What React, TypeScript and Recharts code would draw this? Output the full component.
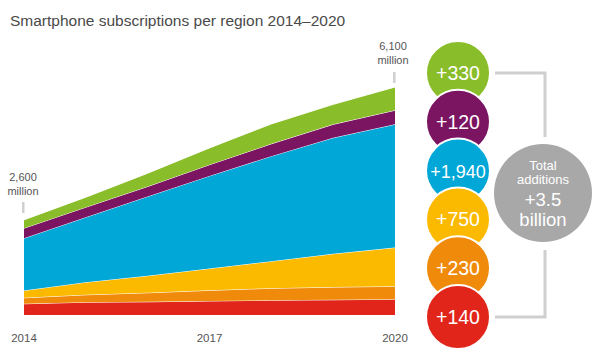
import React from "react";
import { AreaChart, Area, XAxis, YAxis } from "recharts";

const years = [2014, 2015, 2016, 2017, 2018, 2019, 2020];
const red = [300, 343, 353, 375, 396, 407, 423];
const orange = [161, 198, 242, 285, 320, 340, 345];
const yellow = [195, 337, 455, 585, 724, 892, 1037];
const blue = [1401, 1741, 2124, 2480, 2814, 3107, 3302];
const purple = [268, 268, 267, 300, 330, 359, 375];
const green = [225, 268, 356, 450, 533, 535, 623];

const tickYears = [2014, 2017, 2020];
const startLabel = ["2,600", "million"];
const endLabel = ["6,100", "million"];

const additionLabels = ["+330", "+120", "+1,940", "+750", "+230", "+140"];
const totalLabel = ["Total", "additions", "+3.5", "billion"];

const C = {
  green: "#8abd2a",
  purple: "#7b1461",
  blue: "#00a7d7",
  yellow: "#fbb900",
  orange: "#f08a0b",
  red: "#e1251b",
};
const circleColors = [C.green, C.purple, C.blue, C.yellow, C.orange, C.red];

const data = years.map((y, i) => ({
  year: y,
  red: red[i],
  orange: orange[i],
  yellow: yellow[i],
  blue: blue[i],
  purple: purple[i],
  green: green[i],
}));

const series: [string, string][] = [
  ["red", C.red],
  ["orange", C.orange],
  ["yellow", C.yellow],
  ["blue", C.blue],
  ["purple", C.purple],
  ["green", C.green],
];

const FONT = "'Liberation Sans', Arial, Helvetica, sans-serif";

export default function App() {
  return (
    <div style={{ position: "absolute", left: 0, top: 0, width: 600, height: 355, background: "#fff", fontFamily: FONT }}>
      <AreaChart
        width={600}
        height={355}
        data={data}
        margin={{ top: 87, right: 205, bottom: 0, left: 24 }}
      >
        <XAxis
          dataKey="year"
          type="number"
          domain={[2014, 2020]}
          ticks={tickYears}
          axisLine={false}
          tickLine={false}
          tickMargin={13}
          height={40}
          interval={0}
          tick={{ fill: "#555", fontSize: 11.5, fontFamily: FONT }}
        />
        <YAxis hide domain={[0, 6100]} width={0} />
        {series.map(([k, c]) => (
          <Area
            key={k}
            type="linear"
            dataKey={k}
            stackId="1"
            fill={c}
            fillOpacity={1}
            stroke="#fff"
            strokeWidth={1}
            isAnimationActive={false}
            dot={false}
            activeDot={false}
          />
        ))}
      </AreaChart>
      <svg
        width={600}
        height={355}
        style={{ position: "absolute", left: 0, top: 0, pointerEvents: "none" }}
        fontFamily={FONT}
      >
        <text x={10} y={26} fontSize={15.5} fill="#4a4a4a">
          Smartphone subscriptions per region 2014–2020
        </text>
        <text x={23} y={181} fontSize={11} fill="#555" textAnchor="middle">{startLabel[0]}</text>
        <text x={23} y={195} fontSize={11} fill="#555" textAnchor="middle">{startLabel[1]}</text>
        <rect x={22} y={202} width={2.5} height={11} fill="#d0d0d0" />
        <text x={393} y={50} fontSize={11} fill="#555" textAnchor="middle">{endLabel[0]}</text>
        <text x={393} y={64} fontSize={11} fill="#555" textAnchor="middle">{endLabel[1]}</text>
        <rect x={393} y={72} width={2.5} height={11} fill="#d0d0d0" />

        <polyline points="495,73 545,73 545,137" fill="none" stroke="#cfcfcf" strokeWidth={3} />
        <polyline points="545,250 545,317 495,317" fill="none" stroke="#cfcfcf" strokeWidth={3} />

        {additionLabels.map((t, i) => {
          const cy = 73 + i * 48.8;
          return (
            <g key={t}>
              <circle cx={458} cy={cy} r={32} fill={circleColors[i]} stroke="#fff" strokeWidth={2} />
              <text x={458} y={cy + 7} fontSize={t.length > 4 ? 18 : 19.5} fill="#fff" textAnchor="middle">{t}</text>
            </g>
          );
        })}

        <circle cx={543} cy={193} r={49} fill="#a8a8a8" />
        <text x={543} y={170} fontSize={13} fill="#fff" textAnchor="middle">{totalLabel[0]}</text>
        <text x={543} y={184} fontSize={13} fill="#fff" textAnchor="middle">{totalLabel[1]}</text>
        <text x={543} y={206} fontSize={18.5} fill="#fff" textAnchor="middle">{totalLabel[2]}</text>
        <text x={543} y={226} fontSize={18.5} fill="#fff" textAnchor="middle">{totalLabel[3]}</text>
      </svg>
    </div>
  );
}
